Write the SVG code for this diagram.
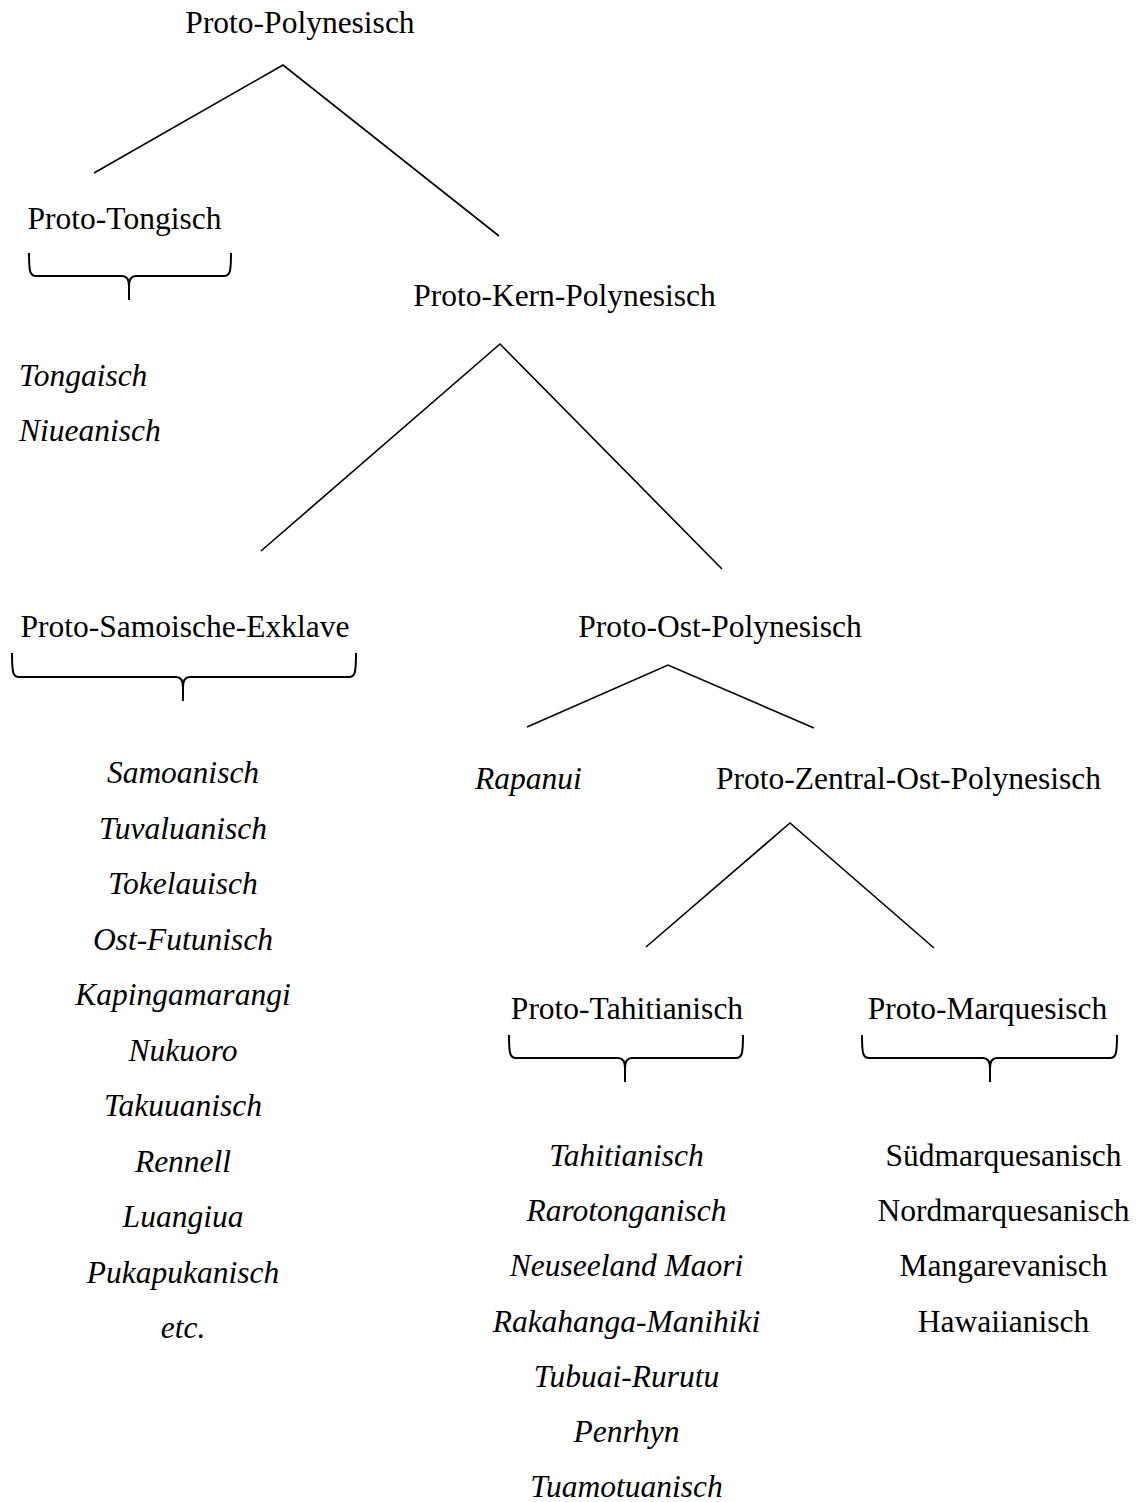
<svg xmlns="http://www.w3.org/2000/svg" width="1139" height="1502" viewBox="0 0 1139 1502">
<style>
  text { font-family: "Liberation Serif", "Times New Roman", serif; font-size: 31.5px; fill: #000; }
  .it { font-style: italic; }
  .c { text-anchor: middle; }
  .edge { stroke: #000; stroke-width: 1.6; fill: none; }
  .brace { stroke: #000; stroke-width: 2; fill: none; stroke-linejoin: round; }
</style>
<rect width="1139" height="1502" fill="#fff"/>

<g id="connectors">
  <polyline class="edge" points="94,173 283,65 499,236"/>
  <polyline class="edge" points="261,551 500,344 722,569"/>
  <polyline class="edge" points="527,727 668,665 814,728"/>
  <polyline class="edge" points="646,947 790,823 934,948"/>
  <path class="brace" d="M29,253 C29,272 30,276 36,276 L122,276 C127,276 129,280 129,286 L129,300 M231,253 C231,272 230,276 224,276 L136,276 C131,276 129,280 129,286"/>
  <path class="brace" d="M12,653 C12,673 13,677 19,677 L176,677 C181,677 183,681 183,687 L183,701 M356,653 C356,673 355,677 349,677 L190,677 C185,677 183,681 183,687"/>
  <path class="brace" d="M509,1035 C509,1054 510,1058 516,1058 L618,1058 C623,1058 625,1062 625,1068 L625,1082 M743,1035 C743,1054 742,1058 736,1058 L632,1058 C627,1058 625,1062 625,1068"/>
  <path class="brace" d="M862,1035 C862,1054 863,1058 869,1058 L983,1058 C988,1058 990,1062 990,1068 L990,1082 M1117,1035 C1117,1054 1116,1058 1110,1058 L997,1058 C992,1058 990,1062 990,1068"/>
</g>

<g id="proto-polynesisch"><text x="300" y="33" class="c">Proto-Polynesisch</text></g>
<g id="proto-tongisch"><text x="124.5" y="229" class="c">Proto-Tongisch</text></g>
<g id="proto-kern-polynesisch"><text x="564.5" y="306" class="c">Proto-Kern-Polynesisch</text></g>
<g id="tongisch-list">
  <text x="19" y="386" class="it">Tongaisch</text>
  <text x="19" y="441" class="it">Niueanisch</text>
</g>
<g id="proto-samoische-exklave"><text x="185" y="637" class="c">Proto-Samoische-Exklave</text></g>
<g id="proto-ost-polynesisch"><text x="720" y="637" class="c">Proto-Ost-Polynesisch</text></g>
<g id="samoan-list">
  <text x="183" y="783" class="it c">Samoanisch</text>
  <text x="183" y="839" class="it c">Tuvaluanisch</text>
  <text x="183" y="894" class="it c">Tokelauisch</text>
  <text x="183" y="950" class="it c">Ost-Futunisch</text>
  <text x="183" y="1005" class="it c">Kapingamarangi</text>
  <text x="183" y="1061" class="it c">Nukuoro</text>
  <text x="183" y="1116" class="it c">Takuuanisch</text>
  <text x="183" y="1172" class="it c">Rennell</text>
  <text x="183" y="1227" class="it c">Luangiua</text>
  <text x="183" y="1283" class="it c">Pukapukanisch</text>
  <text x="183" y="1338" class="it c">etc.</text>
</g>
<g id="rapanui"><text x="475" y="789" class="it">Rapanui</text></g>
<g id="proto-zentral-ost-polynesisch"><text x="908.5" y="789" class="c">Proto-Zentral-Ost-Polynesisch</text></g>
<g id="proto-tahitianisch"><text x="627" y="1019" class="c">Proto-Tahitianisch</text></g>
<g id="proto-marquesisch"><text x="987.5" y="1019" class="c">Proto-Marquesisch</text></g>
<g id="tahitian-list">
  <text x="626.5" y="1166" class="it c">Tahitianisch</text>
  <text x="626.5" y="1221" class="it c">Rarotonganisch</text>
  <text x="626.5" y="1276" class="it c">Neuseeland Maori</text>
  <text x="626.5" y="1332" class="it c">Rakahanga-Manihiki</text>
  <text x="626.5" y="1387" class="it c">Tubuai-Rurutu</text>
  <text x="626.5" y="1442" class="it c">Penrhyn</text>
  <text x="626.5" y="1497" class="it c">Tuamotuanisch</text>
</g>
<g id="marquesan-list">
  <text x="1003.5" y="1166" class="c">Südmarquesanisch</text>
  <text x="1003.5" y="1221" class="c">Nordmarquesanisch</text>
  <text x="1003.5" y="1276" class="c">Mangarevanisch</text>
  <text x="1003.5" y="1332" class="c">Hawaiianisch</text>
</g>
</svg>
